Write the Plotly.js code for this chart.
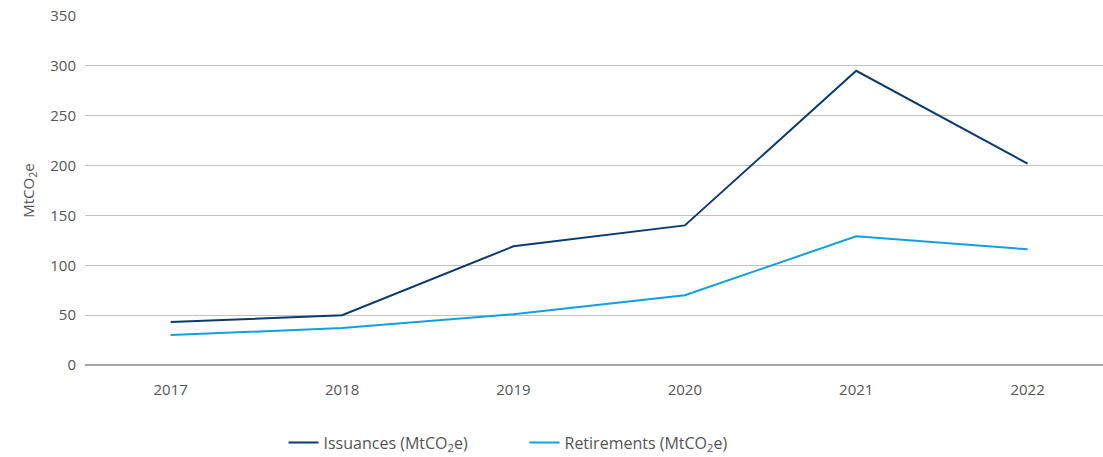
<!DOCTYPE html>
<html>
<head>
<meta charset="utf-8">
<script src="https://cdn.plot.ly/plotly-3.0.1.min.js"></script>
<style>
  html, body { margin: 0; padding: 0; background: #fff; }
  #chart { width: 1103px; height: 457px; }
</style>
</head>
<body>
<div id="chart"></div>
<script>
// years and values (MtCO2e)
var years = ['2017', '2018', '2019', '2020', '2021', '2022'];
var issuances = [43, 50, 119, 140, 295, 202];
var retirements = [30, 37, 51, 70, 129, 116];
var yTicks = [0, 50, 100, 150, 200, 250, 300, 350];

var trace1 = {
    x: years,
    y: issuances,
    name: 'Issuances (MtCO<sub>2</sub>e)',
    type: 'scatter',
    mode: 'lines',
    line: {color: '#0b3a6f', width: 2}
};

var trace2 = {
    x: years,
    y: retirements,
    name: 'Retirements (MtCO<sub>2</sub>e)',
    type: 'scatter',
    mode: 'lines',
    line: {color: '#11a0e0', width: 2}
};

var layout = {
    width: 1103,
    height: 457,
    margin: {l: 85, r: 0, t: 16, b: 92, autoexpand: false},
    paper_bgcolor: '#fff',
    plot_bgcolor: '#fff',
    font: {family: 'Open Sans, sans-serif', size: 15, color: '#555'},
    showlegend: true,
    legend: {
        orientation: 'h',
        xref: 'paper',
        yref: 'paper',
        x: 0.195,
        xanchor: 'left',
        y: -0.222,
        yanchor: 'middle',
        entrywidth: 196,
        font: {size: 16, color: '#555'}
    },
    xaxis: {
        type: 'category',
        range: [-0.5, 5.44],
        showgrid: false,
        showline: false,
        ticks: '',
        ticklen: 0,
        ticklabelstandoff: 14,
        tickfont: {size: 15, color: '#555'}
    },
    yaxis: {
        range: [0, 350],
        tickvals: yTicks,
        showgrid: true,
        gridcolor: '#c4c0c0',
        gridwidth: 1,
        zeroline: true,
        zerolinecolor: '#aaa6a6',
        zerolinewidth: 2,
        ticks: '',
        ticklen: 0,
        ticklabelstandoff: 8,
        tickfont: {size: 15, color: '#555'},
        title: {text: 'MtCO<sub>2</sub>e', font: {size: 15, color: '#555'}, standoff: 12}
    }
};

Plotly.newPlot('chart', [trace1, trace2], layout, {displayModeBar: false, staticPlot: true});
</script>
</body>
</html>
